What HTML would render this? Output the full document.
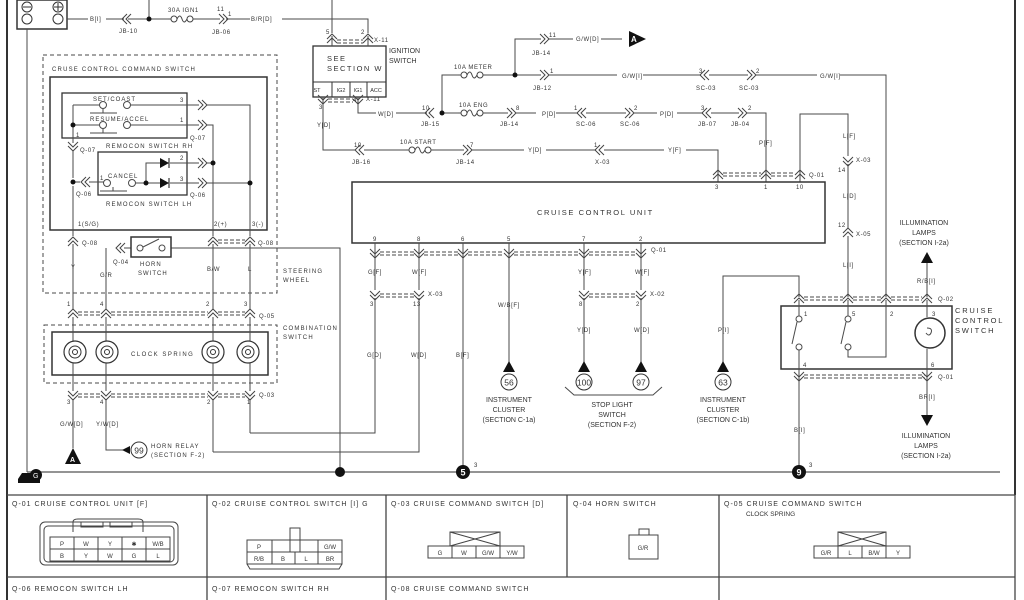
<!DOCTYPE html>
<html><head><meta charset="utf-8"><style>
html,body{margin:0;padding:0;background:#fff;}
svg{display:block;}
text{font-family:"Liberation Sans",sans-serif;fill:#333;}
.s{font-size:6px;letter-spacing:0.6px;}
.m{font-size:7px;letter-spacing:1.2px;}
.h{font-size:7.5px;letter-spacing:0.8px;}
</style></head><body>
<svg width="1024" height="600" viewBox="0 0 1024 600" xmlns="http://www.w3.org/2000/svg">
<defs>
<g id="cR"><path d="M-5,-5 L0,0 L-5,5 M-1,-5 L4,0 L-1,5" fill="none" stroke="#444" stroke-width="1"/></g>
<g id="cL"><path d="M5,-5 L0,0 L5,5 M1,-5 L-4,0 L1,5" fill="none" stroke="#444" stroke-width="1"/></g>
<g id="cD"><path d="M-5,-5 L0,0 L5,-5 M-5,-1 L0,4 L5,-1" fill="none" stroke="#444" stroke-width="1"/></g>
<g id="cU"><path d="M-5,5 L0,0 L5,5 M-5,1 L0,-4 L5,1" fill="none" stroke="#444" stroke-width="1"/></g>
<g id="fuse"><path d="M0,0 h3 M25,0 h3" stroke="#444"/><circle cx="6" cy="0" r="3" fill="#fff" stroke="#444"/><circle cx="22" cy="0" r="3" fill="#fff" stroke="#444"/><path d="M9,0 q3,-6 5,0 q2,6 5,0" fill="none" stroke="#444"/></g>
<g id="spr"><circle r="11" fill="none" stroke="#333" stroke-width="1.2"/><circle r="6" fill="none" stroke="#333"/><circle r="2.5" fill="none" stroke="#333"/></g>
</defs>
<g fill="none" stroke="#4a4a4a" stroke-width="1">
<path d="M7,0 V600" stroke="#333" stroke-width="2"/>
<path d="M1015,0 V495" stroke="#333" stroke-width="2"/>
<rect x="17" y="0" width="50" height="29" stroke="#333" stroke-width="1.5"/>
<path d="M27,29 V472 M67,19 H88 M106,19 H124 M128,19 H168 M149,19 V0 M196,19 H220 M226,19 H250 M282,19 H368 V33 M332,0 V33"/>
<path d="M27,472 H1000" stroke="#555" stroke-width="1.2"/>
<rect x="313" y="46" width="73" height="51" stroke="#333" stroke-width="1.3"/>
<path d="M313,82 H386 M332,82 V97 M350,82 V97 M367,82 V97" stroke="#333"/>
<path d="M332,36 V46 M368,36 V46 M323,97 V150 H355 M358,97 V113 H376 M396,113 H427 M442,113 H458 M486,113 H508 M516,113 H536 M556,113 H578 M586,113 H626 M634,113 H657 M677,113 H703 M711,113 H739 M747,113 H766 V182"/>
<path d="M442,113 V75 H458 M486,75 H541 M549,75 H617 M643,75 H701 M709,75 H748 M756,75 H817 M840,75 H886 V297"/>
<path d="M515,75 V39 H541 M549,39 H573 M601,39 H622"/>
<path d="M364,150 H406 M434,150 H464 M472,150 H524 M546,150 H596 M604,150 H664 M686,150 H718 V182"/>
<path d="M800,182 V114 H848 V156 M848,164 V228 M848,236 V297"/>
<rect x="352" y="182" width="473" height="61" stroke="#333" stroke-width="1.5"/>
<path d="M375,243 V290 M375,298 V433 H250 M419,243 V290 M419,298 V452 H213 M463,243 V472 M509,243 V362 M584,243 V290 M584,298 V362 M641,243 V290 M641,298 V362"/>
<path d="M380,252 H414 M424,252 H458 M468,252 H504 M514,252 H579 M589,252 H636" stroke-dasharray="4,2"/>
<path d="M380,255 H414 M424,255 H458 M468,255 H504 M514,255 H579 M589,255 H636" stroke-dasharray="4,2"/>
<path d="M380,294 H414 M589,294 H636" stroke-dasharray="4,2"/>
<path d="M380,297 H414 M589,297 H636" stroke-dasharray="4,2"/>
<path d="M723,173 H761 M771,173 H795" stroke-dasharray="4,2"/>
<path d="M723,176 H761 M771,176 H795" stroke-dasharray="4,2"/>
<path d="M337,40 H363 M337,43 H363 M328,99 H353 M328,102 H353" stroke-dasharray="4,2"/>
<path d="M565,387 L574,395 H653 L662,387"/>
<path d="M799,297 V276 H723 V362"/>
<rect x="781" y="306" width="171" height="63" stroke="#333" stroke-width="1.5"/>
<path d="M804,297 H843 M853,297 H881 M891,297 H922" stroke-dasharray="4,2"/>
<path d="M804,300 H843 M853,300 H881 M891,300 H922" stroke-dasharray="4,2"/>
<path d="M804,375 H925 M804,378 H925" stroke-dasharray="4,2"/>
<path d="M799,300 V316 M799,350 V472 M848,300 V316 M848,350 V357 H886 V300 M927,300 V317 M927,349 V418 M927,297 V262"/>
<circle cx="799" cy="319" r="3" fill="#fff"/><circle cx="799" cy="347" r="3" fill="#fff"/>
<path d="M797,322 L792,344"/>
<circle cx="848" cy="319" r="3" fill="#fff"/><circle cx="848" cy="347" r="3" fill="#fff"/>
<path d="M846,322 L841,344"/>
<circle cx="930" cy="333" r="15" stroke="#333" stroke-width="1.5"/>
<path d="M927,328 q6,0 4,5 q-2,4 -5,0" />
<rect x="43" y="55" width="234" height="238" stroke-dasharray="4,3"/>
<rect x="50" y="77" width="217" height="153" stroke="#333" stroke-width="1.5"/>
<rect x="62" y="93" width="125" height="45" stroke="#333" stroke-width="1.3"/>
<rect x="98" y="152" width="89" height="43" stroke="#333" stroke-width="1.3"/>
<path d="M73,105 H100 M130,105 H199 M207,105 H250 V236 M73,125 H100 M130,125 H199 M207,125 H213 V236 M73,105 V143 M73,151 V178 M73,186 V236"/>
<path d="M73,182 H80 M89,182 H104 M110,183 H104 M135,183 H160 M146,183 V163 H160 M170,163 H199 M207,163 H213 M170,183 H199 M207,183 H250"/>
<path d="M90,113 H117 M103,113 V109 M90,133 H117 M103,133 V129 M100,191 H127 M113,191 V187"/>
<circle cx="103" cy="105" r="3.5" fill="#fff"/><circle cx="127" cy="105" r="3.5" fill="#fff"/>
<circle cx="103" cy="125" r="3.5" fill="#fff"/><circle cx="127" cy="125" r="3.5" fill="#fff"/>
<circle cx="107" cy="183" r="3.5" fill="#fff"/><circle cx="132" cy="183" r="3.5" fill="#fff"/>
<path d="M73,244 V309 M106,248 V309 M213,244 V309 M250,244 V309"/>
<path d="M218,240 H245 M218,243 H245" stroke-dasharray="4,2"/>
<path d="M124,248 H131 M171,248 H340 V472"/>
<rect x="131" y="237" width="40" height="20" stroke="#333" stroke-width="1.5"/>
<circle cx="140" cy="248" r="3" fill="#fff"/><circle cx="162" cy="248" r="3" fill="#fff"/><path d="M143,247 L159,239"/>
<path d="M78,312 H101 M111,312 H208 M218,312 H245 M78,315 H101 M111,315 H208 M218,315 H245" stroke-dasharray="4,2"/>
<rect x="44" y="325" width="233" height="58" stroke-dasharray="4,3"/>
<rect x="52" y="332" width="216" height="43" stroke="#333" stroke-width="1.5"/>
<path d="M73,317 V341 M73,363 V391 M106,317 V341 M106,363 V391 M213,317 V341 M213,363 V391 M250,317 V341 M250,363 V391"/>
<path d="M78,394 H101 M111,394 H208 M218,394 H245 M78,397 H101 M111,397 H208 M218,397 H245" stroke-dasharray="4,2"/>
<path d="M73,399 V448 M106,399 V450 H128 M213,399 V452 M250,399 V433"/>
</g>
<path d="M160,158 L169,163 L160,168 Z M160,178 L169,183 L160,188 Z" fill="#111"/>
<path d="M169,158 V168 M169,178 V188" stroke="#111"/>
<use href="#spr" x="75" y="352"/><use href="#spr" x="107" y="352"/><use href="#spr" x="213" y="352"/><use href="#spr" x="248" y="352"/>
<use href="#fuse" x="168" y="19"/><use href="#fuse" x="458" y="75"/><use href="#fuse" x="458" y="113"/><use href="#fuse" x="406" y="150"/>
<g fill="#111"><circle cx="149" cy="19" r="2.5"/><circle cx="442" cy="113" r="2.5"/><circle cx="515" cy="75" r="2.5"/><circle cx="73" cy="125" r="2.5"/><circle cx="73" cy="182" r="2.5"/><circle cx="213" cy="163" r="2.5"/><circle cx="250" cy="183" r="2.5"/><circle cx="146" cy="183" r="2.5"/><circle cx="340" cy="472" r="5"/>
<circle cx="463" cy="472" r="7"/><circle cx="799" cy="472" r="7"/></g>
<text x="463" y="475.5" text-anchor="middle" style="font-size:9px;fill:#fff;font-weight:bold">5</text>
<text x="799" y="475.5" text-anchor="middle" style="font-size:9px;fill:#fff;font-weight:bold">9</text>
<path d="M18,479 l4,-6 h14 l4,6 v4 h-22 z" fill="#111"/><circle cx="36" cy="475" r="6" fill="#111"/>
<text x="33" y="478" style="font-size:7px;fill:#fff">G</text>
<path d="M629,31 L646,39 L629,47 Z" fill="#111"/><text x="631" y="42" style="font-size:8px;fill:#fff;font-weight:bold">A</text>
<path d="M65,464 L73,448 L81,464 Z" fill="#111"/><text x="70" y="462" style="font-size:7px;fill:#fff;font-weight:bold">A</text>
<path d="M122,450 L130,446 L130,454 Z" fill="#111"/>
<path d="M503,372 L509,361 L515,372 Z M578,372 L584,361 L590,372 Z M635,372 L641,361 L647,372 Z M717,372 L723,361 L729,372 Z" fill="#111"/>
<path d="M921,263 L927,252 L933,263 Z M921,415 L927,426 L933,415 Z" fill="#111"/>
<g fill="#fff" stroke="#333"><circle cx="139" cy="450" r="8"/><circle cx="509" cy="382" r="8"/><circle cx="584" cy="382" r="8"/><circle cx="641" cy="382" r="8"/><circle cx="723" cy="382" r="8"/></g>
<g style="font-size:8.5px" text-anchor="middle"><text x="139" y="453.5">99</text><text x="509" y="385.5">56</text><text x="584" y="385.5">100</text><text x="641" y="385.5">97</text><text x="723" y="385.5">63</text></g>
<use href="#cL" x="126" y="19"/><use href="#cR" x="224" y="19"/>
<use href="#cU" x="332" y="38"/><use href="#cU" x="368" y="38"/>
<use href="#cD" x="323" y="100"/><use href="#cD" x="358" y="100"/>
<use href="#cL" x="429" y="113"/><use href="#cR" x="512" y="113"/><use href="#cL" x="581" y="113"/><use href="#cR" x="630" y="113"/><use href="#cL" x="706" y="113"/><use href="#cR" x="743" y="113"/>
<use href="#cR" x="545" y="39"/><use href="#cR" x="545" y="75"/><use href="#cL" x="704" y="75"/><use href="#cR" x="752" y="75"/>
<use href="#cL" x="359" y="150"/><use href="#cR" x="468" y="150"/><use href="#cL" x="599" y="150"/>
<use href="#cU" x="718" y="174"/><use href="#cU" x="766" y="174"/><use href="#cU" x="800" y="174"/>
<use href="#cD" x="848" y="162"/><use href="#cU" x="848" y="232"/>
<use href="#cD" x="375" y="254"/><use href="#cD" x="419" y="254"/><use href="#cD" x="463" y="254"/><use href="#cD" x="509" y="254"/><use href="#cD" x="584" y="254"/><use href="#cD" x="641" y="254"/>
<use href="#cD" x="375" y="296"/><use href="#cD" x="419" y="296"/><use href="#cD" x="584" y="296"/><use href="#cD" x="641" y="296"/>
<use href="#cU" x="799" y="298"/><use href="#cU" x="848" y="298"/><use href="#cU" x="886" y="298"/><use href="#cU" x="927" y="298"/>
<use href="#cD" x="799" y="377"/><use href="#cD" x="927" y="377"/>
<use href="#cR" x="203" y="105"/><use href="#cR" x="203" y="125"/><use href="#cD" x="73" y="147"/>
<use href="#cR" x="203" y="163"/><use href="#cR" x="203" y="183"/><use href="#cL" x="85" y="182"/>
<use href="#cU" x="73" y="241"/><use href="#cU" x="213" y="241"/><use href="#cU" x="250" y="241"/><use href="#cL" x="120" y="248"/>
<use href="#cU" x="73" y="313"/><use href="#cU" x="106" y="313"/><use href="#cU" x="213" y="313"/><use href="#cU" x="250" y="313"/>
<use href="#cD" x="73" y="396"/><use href="#cD" x="106" y="396"/><use href="#cD" x="213" y="396"/><use href="#cD" x="250" y="396"/>
<g fill="none" stroke="#333"><circle cx="27" cy="7" r="5"/><path d="M23,7 H31"/><circle cx="58" cy="7" r="5"/><path d="M54,7 H62 M58,3 V11"/><circle cx="27" cy="19" r="5" fill="#fff"/><circle cx="58" cy="19" r="5" fill="#fff"/></g>
<g class="s">
<text x="90" y="21">B[I]</text><text x="119" y="33">JB-10</text><text x="168" y="12">30A IGN1</text><text x="212" y="34">JB-06</text><text x="217" y="11">11</text><text x="228" y="16">1</text><text x="251" y="21">B/R[D]</text>
<text x="326" y="34">5</text><text x="361" y="34">2</text><text x="374" y="42">X-11</text><text x="319" y="109">3</text><text x="353" y="102">4</text><text x="366" y="101">X-11</text>
<text x="317" y="127">Y[D]</text><text x="378" y="116">W[D]</text><text x="422" y="110">10</text><text x="421" y="126">JB-15</text>
<text x="454" y="69">10A METER</text><text x="459" y="107">10A ENG</text><text x="500" y="126">JB-14</text><text x="516" y="110">8</text>
<text x="542" y="116">P[D]</text><text x="576" y="126">SC-06</text><text x="574" y="110">1</text><text x="620" y="126">SC-06</text><text x="634" y="110">2</text><text x="660" y="116">P[D]</text><text x="698" y="126">JB-07</text><text x="701" y="110">3</text><text x="731" y="126">JB-04</text><text x="748" y="110">2</text>
<text x="532" y="55">JB-14</text><text x="549" y="37">11</text><text x="576" y="41">G/W[D]</text><text x="533" y="90">JB-12</text><text x="550" y="73">1</text><text x="622" y="78">G/W[I]</text><text x="696" y="90">SC-03</text><text x="699" y="73">3</text><text x="739" y="90">SC-03</text><text x="756" y="73">2</text><text x="820" y="78">G/W[I]</text>
<text x="352" y="164">JB-16</text><text x="354" y="147">10</text><text x="400" y="144">10A START</text><text x="456" y="164">JB-14</text><text x="470" y="147">7</text><text x="528" y="152">Y[D]</text><text x="595" y="164">X-03</text><text x="594" y="147">1</text><text x="668" y="152">Y[F]</text>
<text x="759" y="145">P[F]</text><text x="843" y="138">L[F]</text><text x="856" y="162">X-03</text><text x="838" y="172">14</text><text x="843" y="198">L[D]</text><text x="838" y="227">12</text><text x="856" y="236">X-05</text><text x="843" y="267">L[I]</text>
<text x="715" y="189">3</text><text x="764" y="189">1</text><text x="796" y="189">10</text><text x="809" y="177">Q-01</text>
<text x="373" y="241">9</text><text x="417" y="241">8</text><text x="461" y="241">6</text><text x="507" y="241">5</text><text x="582" y="241">7</text><text x="639" y="241">2</text><text x="651" y="252">Q-01</text>
<text x="368" y="274">G[F]</text><text x="412" y="274">W[F]</text><text x="428" y="296">X-03</text><text x="370" y="306">3</text><text x="413" y="306">13</text>
<text x="367" y="357">G[D]</text><text x="411" y="357">W[D]</text><text x="456" y="357">B[F]</text><text x="498" y="307">W/B[F]</text><text x="474" y="467">3</text>
<text x="578" y="274">Y[F]</text><text x="635" y="274">W[F]</text><text x="650" y="296">X-02</text><text x="579" y="306">8</text><text x="636" y="306">2</text><text x="577" y="332">Y[D]</text><text x="634" y="332">W[D]</text><text x="718" y="332">P[I]</text>
<text x="917" y="283">R/B[I]</text><text x="938" y="301">Q-02</text><text x="804" y="316">1</text><text x="852" y="316">5</text><text x="890" y="316">2</text><text x="932" y="316">3</text>
<text x="803" y="367">4</text><text x="931" y="367">6</text><text x="938" y="379">Q-01</text><text x="919" y="399">BR[I]</text><text x="794" y="432">B[I]</text><text x="809" y="467">3</text>
<text x="52" y="71" style="letter-spacing:1.2px">CRUSE CONTROL COMMAND SWITCH</text>
<text x="93" y="101" style="letter-spacing:1px">SET/COAST</text><text x="90" y="121" style="letter-spacing:1px">RESUME/ACCEL</text>
<text x="180" y="102">3</text><text x="180" y="122">1</text><text x="76" y="137">1</text><text x="80" y="152">Q-07</text><text x="190" y="140">Q-07</text>
<text x="106" y="148" style="letter-spacing:1.2px">REMOCON SWITCH RH</text><text x="106" y="206" style="letter-spacing:1.2px">REMOCON SWITCH LH</text>
<text x="108" y="178" style="letter-spacing:1px">CANCEL</text><text x="100" y="180">1</text><text x="180" y="160">2</text><text x="180" y="181">3</text><text x="76" y="196">Q-06</text><text x="190" y="197">Q-06</text>
<text x="78" y="226">1(S/G)</text><text x="214" y="226">2(+)</text><text x="252" y="226">3(-)</text><text x="82" y="245">Q-08</text><text x="258" y="245">Q-08</text>
<text x="113" y="264">Q-04</text><text x="140" y="266" style="letter-spacing:1px">HORN</text><text x="138" y="275" style="letter-spacing:1px">SWITCH</text>
<text x="71" y="269">Y</text><text x="100" y="277">G/R</text><text x="207" y="271">B/W</text><text x="248" y="271">L</text>
<text x="283" y="273" style="letter-spacing:1.2px">STEERING</text><text x="283" y="282" style="letter-spacing:1.2px">WHEEL</text>
<text x="67" y="306">1</text><text x="100" y="306">4</text><text x="206" y="306">2</text><text x="244" y="306">3</text><text x="259" y="318">Q-05</text>
<text x="283" y="330" style="letter-spacing:1.2px">COMBINATION</text><text x="283" y="339" style="letter-spacing:1.2px">SWITCH</text>
<text x="131" y="356" style="letter-spacing:1.5px">CLOCK SPRING</text>
<text x="67" y="404">3</text><text x="100" y="404">4</text><text x="207" y="404">2</text><text x="247" y="404">1</text><text x="259" y="397">Q-03</text>
<text x="60" y="426">G/W[D]</text><text x="96" y="426">Y/W[D]</text>
<text x="151" y="448" style="letter-spacing:1px">HORN RELAY</text><text x="151" y="457" style="letter-spacing:1px">(SECTION F-2)</text>
</g>
<g class="h">
<text x="327" y="61" style="letter-spacing:1.5px">SEE</text><text x="327" y="71" style="letter-spacing:1.5px">SECTION W</text>
<text x="389" y="53" style="font-size:7px;letter-spacing:0">IGNITION</text><text x="389" y="63" style="font-size:7px;letter-spacing:0">SWITCH</text>
<text x="537" y="215" style="letter-spacing:1.6px">CRUISE CONTROL UNIT</text>
<text x="955" y="313" style="letter-spacing:1.8px">CRUISE</text><text x="955" y="323" style="letter-spacing:1.8px">CONTROL</text><text x="955" y="333" style="letter-spacing:1.8px">SWITCH</text>
</g>
<g style="font-size:5.5px" text-anchor="middle">
<text x="317" y="92">ST</text><text x="341" y="92">IG2</text><text x="358" y="92">IG1</text><text x="376" y="92">ACC</text>
</g>
<g style="font-size:7px" text-anchor="middle">
<text x="509" y="402">INSTRUMENT</text><text x="509" y="412">CLUSTER</text><text x="509" y="422">(SECTION C-1a)</text>
<text x="612" y="407">STOP LIGHT</text><text x="612" y="417">SWITCH</text><text x="612" y="427">(SECTION F-2)</text>
<text x="723" y="402">INSTRUMENT</text><text x="723" y="412">CLUSTER</text><text x="723" y="422">(SECTION C-1b)</text>
<text x="924" y="225">ILLUMINATION</text><text x="924" y="235">LAMPS</text><text x="924" y="245">(SECTION I-2a)</text>
<text x="926" y="438">ILLUMINATION</text><text x="926" y="448">LAMPS</text><text x="926" y="458">(SECTION I-2a)</text>
</g>
<g fill="none" stroke="#444" stroke-width="1">
<path d="M7,495 H1015 V600 M7,577 H1015 M207,495 V600 M386,495 V600 M567,495 V577 M719,495 V600" stroke-width="1.3"/>
<rect x="40" y="522" width="138" height="43" rx="5"/><rect x="44" y="526" width="130" height="36" rx="4"/>
<path d="M73,532 V522 Q73,519 78,519 H138 Q143,519 143,522 V532"/><rect x="81" y="522" width="22" height="5"/><rect x="110" y="522" width="22" height="5"/>
<rect x="50" y="537" width="120" height="24"/><path d="M50,549 H170 M74,537 V561 M98,537 V561 M122,537 V561 M146,537 V561"/>
<rect x="247" y="540" width="95" height="24"/><path d="M247,552 H342 M272,540 V564 M295,552 V564 M318,540 V564"/><rect x="290" y="528" width="10" height="24"/><path d="M247,564 l3,5 H339 l3,-5"/>
<rect x="428" y="546" width="96" height="12"/><path d="M452,546 V558 M476,546 V558 M500,546 V558"/><rect x="450" y="532" width="50" height="14"/><path d="M450,532 L500,546 M500,532 L450,546"/>
<rect x="629" y="535" width="29" height="24"/><rect x="639" y="529" width="10" height="6"/>
<rect x="814" y="546" width="96" height="12"/><path d="M838,546 V558 M862,546 V558 M886,546 V558"/><rect x="838" y="532" width="48" height="14"/><path d="M838,532 L886,546 M886,532 L838,546"/>
</g>
<g style="font-size:6px" text-anchor="middle">
<text x="62" y="546">P</text><text x="86" y="546">W</text><text x="110" y="546">Y</text><text x="134" y="546">✱</text><text x="158" y="546">W/B</text>
<text x="62" y="558">B</text><text x="86" y="558">Y</text><text x="110" y="558">W</text><text x="134" y="558">G</text><text x="158" y="558">L</text>
<text x="259" y="549">P</text><text x="330" y="549">G/W</text><text x="259" y="561">R/B</text><text x="283" y="561">B</text><text x="306" y="561">L</text><text x="330" y="561">BR</text>
<text x="440" y="555">G</text><text x="464" y="555">W</text><text x="488" y="555">G/W</text><text x="512" y="555">Y/W</text>
<text x="643" y="550">G/R</text>
<text x="826" y="555">G/R</text><text x="850" y="555">L</text><text x="874" y="555">B/W</text><text x="898" y="555">Y</text>
</g>
<g style="font-size:7px;letter-spacing:1px">
<text x="12" y="506">Q-01 CRUISE CONTROL UNIT [F]</text><text x="212" y="506">Q-02 CRUISE CONTROL SWITCH [I] G</text><text x="391" y="506">Q-03 CRUISE COMMAND SWITCH [D]</text><text x="573" y="506">Q-04 HORN SWITCH</text><text x="724" y="506">Q-05 CRUISE COMMAND SWITCH</text>
<text x="746" y="516" style="letter-spacing:0;font-size:6.5px">CLOCK SPRING</text>
<text x="12" y="591">Q-06 REMOCON SWITCH LH</text><text x="212" y="591">Q-07 REMOCON SWITCH RH</text><text x="391" y="591">Q-08 CRUISE COMMAND SWITCH</text>
</g>
</svg>
</body></html>
